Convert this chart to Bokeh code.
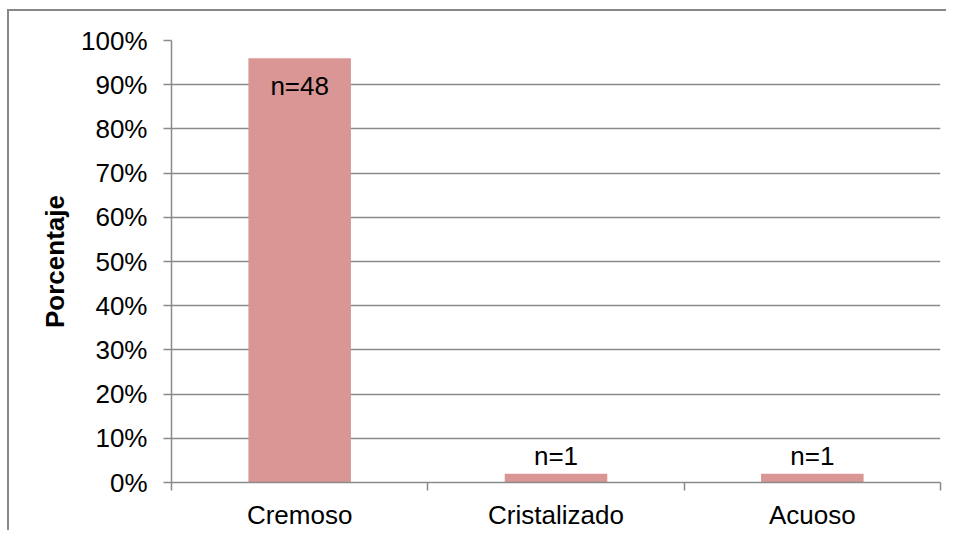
from bokeh.plotting import figure
from bokeh.models import (ColumnDataSource, LabelSet, Range1d,
                          FixedTicker, NumeralTickFormatter)
from bokeh.core.properties import value
from bokeh.embed import file_html
from bokeh.resources import INLINE

# ---- data ----
categories = ["Cremoso", "Cristalizado", "Acuoso"]
percentages = [0.96, 0.02, 0.02]
counts = [48, 1, 1]
y_ticks = [0.0, 0.1, 0.2, 0.3, 0.4, 0.5, 0.6, 0.7, 0.8, 0.9, 1.0]
y_title = "Porcentaje"

FONT = "Liberation Sans"
FS = "26px"
GRAY = "#8a8a8a"
BAR = "#d99694"

n = len(categories)
centers = [i + 0.5 for i in range(n)]
edges = list(range(n + 1))

p = figure(width=939, height=521, x_range=Range1d(0, n), y_range=Range1d(0, 1),
           output_backend="svg", toolbar_location=None,
           min_border_left=162, min_border_right=8, min_border_top=29,
           min_border_bottom=47)
p.margin = (9, 0, 0, 7)
p.styles = {"border-top": "2px solid #888888", "border-left": "2px solid #888888"}
p.outline_line_color = None
p.background_fill_color = "white"
p.border_fill_color = "white"
p.xgrid.visible = False

# bars
src = ColumnDataSource(dict(
    x=centers, cat=categories, pct=percentages,
    label=["n=%d" % c for c in counts],
    yoff=[-37 if v > 0.5 else 9 for v in percentages],
))
p.vbar(x="x", top="pct", width=0.4, source=src, fill_color=BAR,
       line_color=None)

labels = LabelSet(x="x", y="pct", text="label", y_offset="yoff",
                  source=src, text_align="center", text_baseline="alphabetic",
                  text_font=value(FONT), text_font_size=value(FS),
                  text_color="black")
p.add_layout(labels)

# y axis
ya = p.yaxis[0]
ya.ticker = FixedTicker(ticks=y_ticks)
ya.formatter = NumeralTickFormatter(format="0%")
ya.major_tick_out = 8
ya.major_tick_in = 0
ya.minor_tick_line_color = None
ya.axis_line_color = GRAY
ya.axis_line_width = 1.5
ya.major_tick_line_color = GRAY
ya.major_tick_line_width = 1.5
ya.major_label_text_font = FONT
ya.major_label_text_font_size = FS
ya.major_label_text_color = "black"
ya.major_label_standoff = 16
ya.axis_label = y_title
ya.axis_label_text_font = FONT
ya.axis_label_text_font_size = FS
ya.axis_label_text_font_style = "bold"
ya.axis_label_text_color = "black"
ya.axis_label_standoff = 8

p.ygrid.grid_line_color = GRAY
p.ygrid.grid_line_width = 1.5

# x axis: labels at category centres, tick marks at category edges
xa = p.xaxis[0]
xa.ticker = FixedTicker(ticks=centers, minor_ticks=edges)
xa.major_label_overrides = {c: name for c, name in zip(centers, categories)}
xa.major_tick_line_color = None
xa.major_tick_out = 0
xa.major_tick_in = 0
xa.minor_tick_out = 8
xa.minor_tick_in = 0
xa.minor_tick_line_color = GRAY
xa.minor_tick_line_width = 1.5
xa.axis_line_color = GRAY
xa.axis_line_width = 1.5
xa.major_label_text_font = FONT
xa.major_label_text_font_size = FS
xa.major_label_text_color = "black"
xa.major_label_standoff = 9

open("out.html", "w").write(file_html(p, INLINE))
